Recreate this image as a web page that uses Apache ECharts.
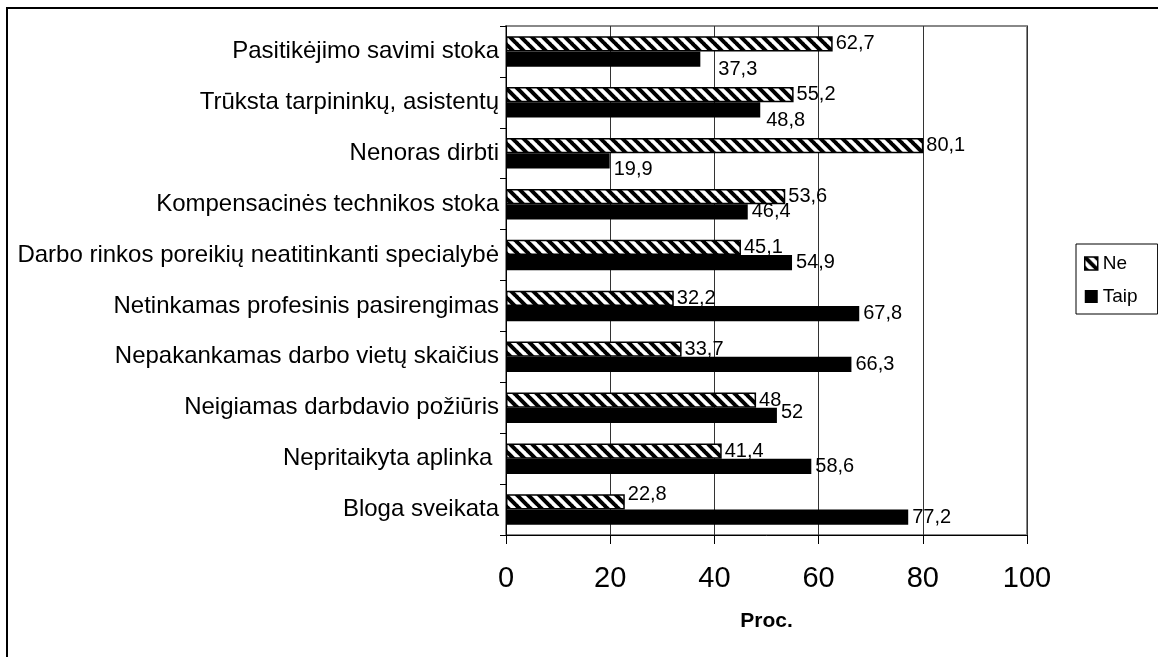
<!DOCTYPE html>
<html>
<head>
<meta charset="utf-8">
<script src="https://cdn.jsdelivr.net/npm/echarts@6/dist/echarts.min.js"></script>
<style>
  html, body { margin: 0; padding: 0; background: #fff; }
  #chart { width: 1158px; height: 657px; }
</style>
</head>
<body>
<div id="chart"></div>
<script>
// priežastys (iš viršaus į apačią)
var categories = [
  'Pasitikėjimo savimi stoka',
  'Trūksta tarpininkų, asistentų',
  'Nenoras dirbti',
  'Kompensacinės technikos stoka',
  'Darbo rinkos poreikių neatitinkanti specialybė',
  'Netinkamas profesinis pasirengimas',
  'Nepakankamas darbo vietų skaičius',
  'Neigiamas darbdavio požiūris',
  'Nepritaikyta aplinka ',
  'Bloga sveikata'
];
var neValues = [62.7, 55.2, 80.1, 53.6, 45.1, 32.2, 33.7, 48, 41.4, 22.8];
var taipValues = [37.3, 48.8, 19.9, 46.4, 54.9, 67.8, 66.3, 52, 58.6, 77.2];
var xTicks = [0, 20, 40, 60, 80, 100];

// etikečių pastumimai (kaip originale)
var neLabelShift = [[0, 0], [0, 0], [0, 0], [0, 0], [0, 0], [0, 0], [0, 0], [0, 0], [0, 0], [0, -7]];
var taipLabelShift = [[14, 10], [2, 10], [0, 9], [0, 0], [0, 0], [0, 0], [0, 0], [0, -3], [0, 0], [0, 0]];

var FONT = '"Liberation Sans", Arial, sans-serif';

// įstrižas brūkšniavimas
function hatch() {
  var s = 11;
  var c = document.createElement('canvas');
  c.width = s; c.height = s;
  var ctx = c.getContext('2d');
  ctx.fillStyle = '#fff';
  ctx.fillRect(0, 0, s, s);
  ctx.strokeStyle = '#000';
  ctx.lineWidth = 4;
  [-s, 0, s].forEach(function (k) {
    ctx.beginPath();
    ctx.moveTo(k - 1, -1);
    ctx.lineTo(k + s + 1, s + 1);
    ctx.stroke();
  });
  return { image: c, repeat: 'repeat' };
}

function fmt(p) {
  return String(p.value).replace('.', ',');
}

function withShift(values, shifts) {
  return values.map(function (v, i) {
    return { value: v, label: { offset: shifts[i] } };
  });
}

var chart = echarts.init(document.getElementById('chart'));
var option = {
  animation: false,
  textStyle: { fontFamily: FONT },
  graphic: [{
    type: 'rect',
    shape: { x: 7, y: 8, width: 1200, height: 700 },
    style: { fill: 'none', stroke: '#000', lineWidth: 2 },
    silent: true
  }],
  grid: {
    left: 506, right: 131, top: 26, bottom: 122,
    show: true, borderColor: '#888', borderWidth: 2
  },
  legend: {
    orient: 'vertical',
    left: 1076, top: 244,
    padding: [10, 20, 8, 8],
    itemGap: 14,
    itemWidth: 13, itemHeight: 13,
    borderColor: '#000', borderWidth: 1,
    textStyle: { fontSize: 19, color: '#000', fontFamily: FONT },
    data: [
      { name: 'Ne', icon: 'rect', itemStyle: { borderColor: '#000', borderWidth: 1.5 } },
      { name: 'Taip', icon: 'rect' }
    ]
  },
  xAxis: {
    type: 'value',
    min: 0, max: 100, interval: 20,
    name: 'Proc.',
    nameLocation: 'middle',
    nameGap: 76,
    nameTextStyle: { fontSize: 21, fontWeight: 'bold', color: '#000', fontFamily: FONT },
    axisLine: { show: true, lineStyle: { color: '#000', width: 1 } },
    axisTick: { show: true, length: 9, lineStyle: { color: '#000' } },
    axisLabel: { fontSize: 29, color: '#000', margin: 29, fontFamily: FONT },
    splitLine: { show: true, lineStyle: { color: '#333', width: 1 } }
  },
  yAxis: {
    type: 'category',
    inverse: true,
    data: categories,
    axisLine: { show: true, lineStyle: { color: '#000', width: 1 } },
    axisTick: { show: true, length: 6, lineStyle: { color: '#000' } },
    axisLabel: { fontSize: 24, color: '#000', margin: 7, fontFamily: FONT }
  },
  series: [
    {
      name: 'Ne',
      type: 'bar',
      data: withShift(neValues, neLabelShift),
      barGap: '0%',
      barCategoryGap: '40%',
      itemStyle: { color: hatch(), borderColor: '#000', borderWidth: 1.5 },
      label: {
        show: true, position: 'right', distance: 3,
        fontSize: 20, color: '#000', fontFamily: FONT, formatter: fmt
      }
    },
    {
      name: 'Taip',
      type: 'bar',
      data: withShift(taipValues, taipLabelShift),
      barGap: '0%',
      barCategoryGap: '40%',
      itemStyle: { color: '#000' },
      label: {
        show: true, position: 'right', distance: 4,
        fontSize: 20, color: '#000', fontFamily: FONT, formatter: fmt
      }
    }
  ]
};
chart.setOption(option);
</script>
</body>
</html>
